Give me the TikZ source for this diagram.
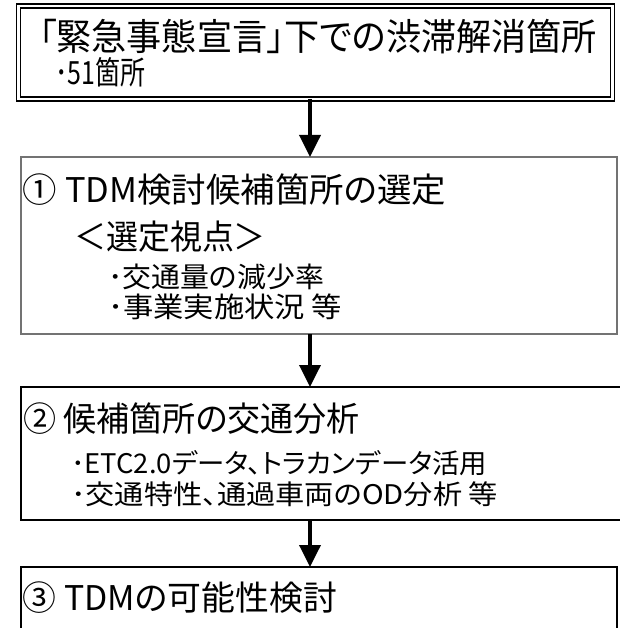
\documentclass[tikz,border=0pt]{standalone}
\usepackage{fontspec}
\usepackage{graphicx}
\setmainfont{Noto Sans CJK JP}[RawFeature=+palt]
\usetikzlibrary{arrows.meta}
\newcommand\fs[1]{\fontsize{#1}{#1}\selectfont}
\newcommand\fitw[3]{\resizebox{#1pt}{\height}{\fs{#2}#3}}
\begin{document}
\begin{tikzpicture}[x=1pt,y=-1pt,
  boxbase/.style={rectangle, inner sep=0pt, outer sep=0pt, anchor=north west},
  dblbox/.style={boxbase, draw=black, line width=1.5pt, double=white, double distance=2.5pt},
  graybox/.style={boxbase, draw=black!55, line width=1.6pt},
  blackbox/.style={boxbase, draw=black, line width=1.2pt},
  txt/.style={anchor=west, inner sep=0pt, outer sep=0pt, text=black},
  flow/.style={line width=3.6pt, -{Triangle[length=22pt, width=21pt]}}]
\useasboundingbox (0,0) rectangle (619,628);
\fill[white] (0,0) rectangle (619,628);
\coordinate (ax) at (310,0);
% boxes
\node[dblbox, minimum width=594pt, minimum height=93pt] (b0) at (18.5,6) {};
\node[graybox, minimum width=596pt, minimum height=177pt] (b1) at (21,157) {};
\node[blackbox, minimum width=602pt, minimum height=133pt] (b2) at (21,387) {};
\node[blackbox, minimum width=596pt, minimum height=80pt] (b3) at (21,567) {};
% texts
\node[txt] (t0a) at (39,37) {\fitw{558}{37}{「緊急事態宣言」下での渋滞解消箇所}};
\node[txt] (t0b) at (55,72) {\fitw{90}{32}{･51箇所}};
\node[txt] (t1a) at (23,190) {\fitw{423}{34}{① TDM検討候補箇所の選定}};
\node[txt] (t1b) at (74,237) {\fitw{192}{34}{＜選定視点＞}};
\node[txt] (t1c) at (108,277) {\fitw{216}{28}{･交通量の減少率}};
\node[txt] (t1d) at (108,307) {\fitw{234}{28}{･事業実施状況 等}};
\node[txt] (t2a) at (23,419) {\fitw{337}{34}{② 候補箇所の交通分析}};
\node[txt] (t2b) at (71,463) {\fitw{416}{27}{･ETC2.0データ、トラカンデータ活用}};
\node[txt] (t2c) at (71,494) {\fitw{427}{27}{･交通特性、通過車両のOD分析 等}};
\node[txt] (t3a) at (23,598) {\fitw{314}{34}{③ TDMの可能性検討}};
% connectors
\draw[flow] (b0.south -| ax) -- (b1.north -| ax);
\draw[flow] (b1.south -| ax) -- (b2.north -| ax);
\draw[flow] (b2.south -| ax) -- (b3.north -| ax);
\end{tikzpicture}
\end{document}
